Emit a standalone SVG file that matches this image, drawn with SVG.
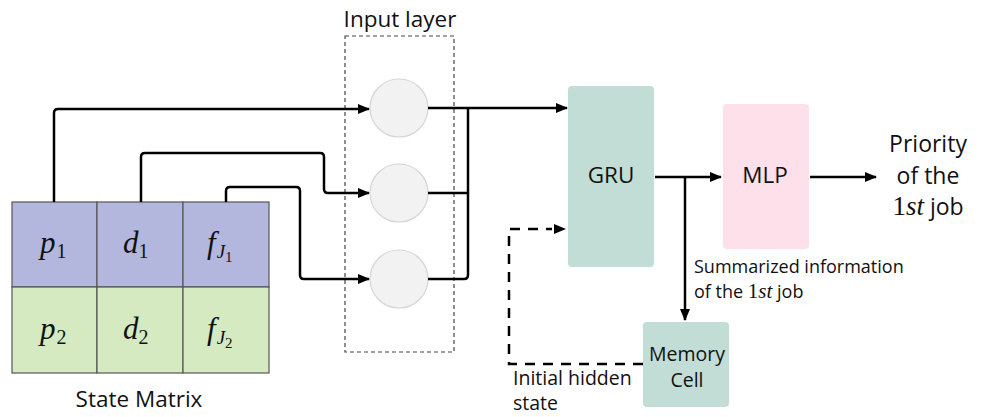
<svg xmlns="http://www.w3.org/2000/svg" width="985" height="417" viewBox="0 0 985 417">
<defs>
<marker id="ah" markerWidth="12" markerHeight="10" refX="11" refY="5" orient="auto" markerUnits="userSpaceOnUse">
<path d="M0,0 L12,5 L0,10 Z" fill="#000"/>
</marker>
<style>
.t{font-family:"Open Sans","Liberation Sans",sans-serif;fill:#111}
.m{font-family:"Liberation Serif","DejaVu Serif",serif;font-style:italic;fill:#111}
.n{font-family:"Liberation Serif","DejaVu Serif",serif;font-style:normal}
.c{fill:none;stroke:#000;stroke-width:2.5;stroke-linejoin:round}
.d{fill:none;stroke:#000;stroke-width:2.5;stroke-dasharray:10 8}
.cell{stroke:#555;stroke-width:1.2}
.node{fill:#f2f2f2;stroke:#d6d6d6;stroke-width:1.2}
</style>
</defs>
<rect width="985" height="417" fill="#fff"/>

<g id="state-matrix">
<rect class="cell" x="12" y="202" width="85" height="85" fill="#b3b7de"/>
<rect class="cell" x="97" y="202" width="86" height="85" fill="#b3b7de"/>
<rect class="cell" x="183" y="202" width="86" height="85" fill="#b3b7de"/>
<rect class="cell" x="12" y="287" width="85" height="86" fill="#d5eac0"/>
<rect class="cell" x="97" y="287" width="86" height="86" fill="#d5eac0"/>
<rect class="cell" x="183" y="287" width="86" height="86" fill="#d5eac0"/>
<text class="m" x="40" y="253" font-size="31">p<tspan class="n" font-size="20" dx="1" dy="5">1</tspan></text>
<text class="m" x="123" y="253" font-size="31">d<tspan class="n" font-size="20" dy="5">1</tspan></text>
<text class="m" x="207" y="253" font-size="31">f<tspan font-size="19" dx="1" dy="5">J</tspan><tspan class="n" font-size="15" dy="4">1</tspan></text>
<text class="m" x="40" y="339" font-size="31">p<tspan class="n" font-size="20" dx="1" dy="5">2</tspan></text>
<text class="m" x="123" y="339" font-size="31">d<tspan class="n" font-size="20" dy="5">2</tspan></text>
<text class="m" x="207" y="339" font-size="31">f<tspan font-size="19" dx="1" dy="5">J</tspan><tspan class="n" font-size="15" dy="4">2</tspan></text>
<text class="t" x="139" y="407" font-size="22.5" text-anchor="middle">State Matrix</text>
</g>

<g id="input-layer">
<rect x="345" y="36" width="109" height="316" fill="none" stroke="#444" stroke-width="1.2" stroke-dasharray="4 3"/>
<text class="t" x="400" y="27" font-size="22.5" text-anchor="middle">Input layer</text>
<circle class="node" cx="399" cy="108" r="29"/>
<circle class="node" cx="399" cy="193" r="29"/>
<circle class="node" cx="399" cy="279" r="29"/>
</g>

<g id="gru">
<rect x="568" y="86" width="86" height="181" rx="4" fill="#c2ddd6"/>
<text class="t" x="611" y="183" font-size="22.5" text-anchor="middle">GRU</text>
</g>

<g id="mlp">
<rect x="723" y="104" width="86" height="145" rx="4" fill="#fde0e9"/>
<text class="t" x="765" y="183" font-size="22.5" text-anchor="middle">MLP</text>
</g>

<g id="memory-cell">
<rect x="643" y="322" width="86" height="85" rx="4" fill="#c2ddd6"/>
<text class="t" x="687" y="361" font-size="19.5" text-anchor="middle">Memory</text>
<text class="t" x="687" y="387" font-size="19.5" text-anchor="middle">Cell</text>
</g>

<g id="output">
<text class="t" x="928" y="152" font-size="23" text-anchor="middle">Priority</text>
<text class="t" x="928" y="184" font-size="23" text-anchor="middle">of the</text>
<text class="t" x="928" y="215" font-size="23" text-anchor="middle"><tspan class="n" font-size="27">1</tspan><tspan class="m" font-size="27">st</tspan> job</text>
</g>

<g id="connectors">
<path class="c" d="M54,202 V113 Q54,109 58,109 H369" marker-end="url(#ah)"/>
<path class="c" d="M141,202 V157 Q141,153 145,153 H320 Q324,153 324,157 V189 Q324,193 328,193 H369" marker-end="url(#ah)"/>
<path class="c" d="M226,202 V191 Q226,187 230,187 H296 Q300,187 300,191 V275 Q300,279 304,279 H369" marker-end="url(#ah)"/>
<path class="c" d="M428,108 H567" marker-end="url(#ah)"/>
<path class="c" d="M428,193 H468"/>
<path class="c" d="M428,279 H464 Q468,279 468,275 V108"/>
<path class="c" d="M655,177 H721" marker-end="url(#ah)"/>
<path class="c" d="M685,177 V320" marker-end="url(#ah)"/>
<path class="c" d="M810,177 H876" marker-end="url(#ah)"/>
<path class="d" d="M643,364 H509 V229 H552"/>
<path d="M554,224 L566,229 L554,234 Z" fill="#000"/>
</g>

<g id="labels">
<text class="t" x="694" y="273" font-size="18">Summarized information</text>
<text class="t" x="694" y="298" font-size="18">of the <tspan class="n" font-size="21">1</tspan><tspan class="m" font-size="21">st</tspan> job</text>
<text class="t" x="513" y="385" font-size="19.5">Initial hidden</text>
<text class="t" x="513" y="410" font-size="19.5">state</text>
</g>
</svg>
